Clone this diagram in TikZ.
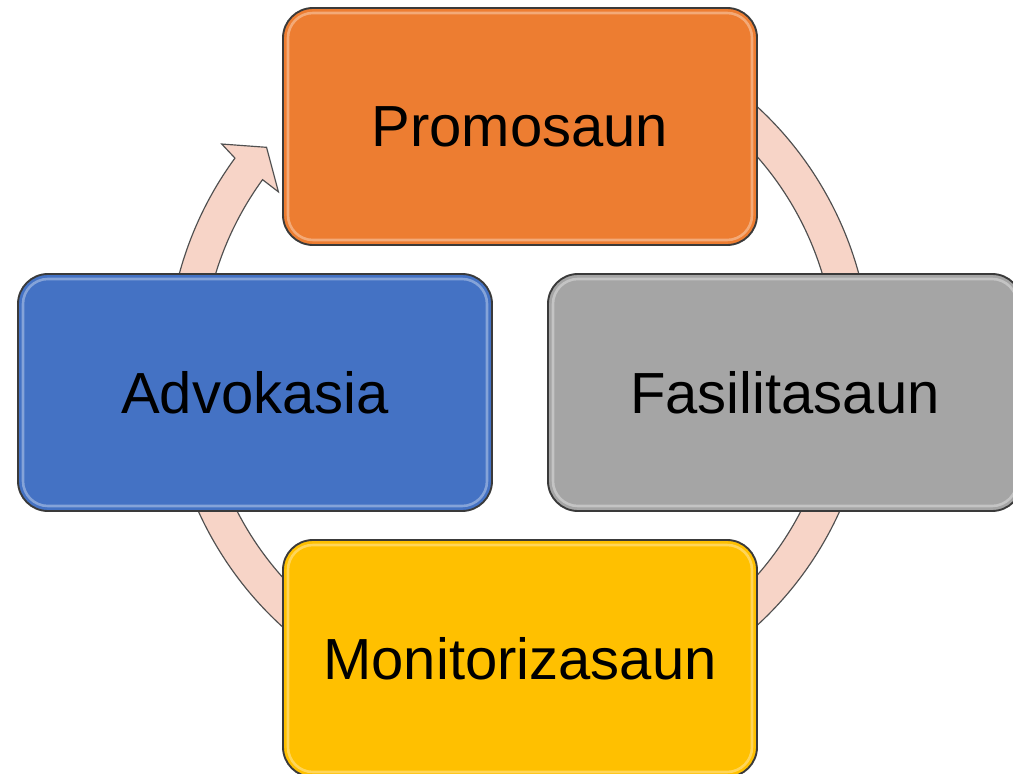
\documentclass[tikz,border=0pt]{standalone}
\usepackage{fontspec}
\setmainfont{Liberation Sans}
\definecolor{cOrange}{HTML}{ED7D31}
\definecolor{cGray}{HTML}{A5A5A5}
\definecolor{cBlue}{HTML}{4472C4}
\definecolor{cYellow}{HTML}{FFC000}
\definecolor{cRing}{HTML}{F7D4C7}
\definecolor{cRingLine}{HTML}{505050}
\definecolor{cEdge}{HTML}{3A3A3A}
\begin{document}
\begin{tikzpicture}[x=0.03cm,y=0.03cm,
  stagebox/.style={draw=cEdge, line width=1.6pt, rounded corners=0.9cm,
    minimum width=14.22cm, minimum height=7.11cm, inner sep=0pt, outer sep=0pt,
    font=\fontsize{49.5}{59}\selectfont, text=black},
  bevel/.style={draw=white, line width=2.2pt, opacity=0.35, rounded corners=0.75cm},
  ringshape/.style={fill=cRing, draw=cRingLine, line width=1pt, line join=miter}]
\useasboundingbox (0,0) rectangle (1013,773);
\clip (0,0) rectangle (1013,773);
\fill[white] (0,0) rectangle (1013,773);
\coordinate (C) at (519,407);
% ring with arrowhead
\path[ringshape]
  ([shift={(120:352)}]C) arc[start angle=120, end angle=-216.2, radius=352]
  -- ([shift={(-216.75:371)}]C)
  -- ([shift={(-220.9:334)}]C)
  -- ([shift={(-215.9:297)}]C)
  -- ([shift={(-216.0:317)}]C)
  arc[start angle=-216.0, end angle=120, radius=317] -- cycle;
% boxes
\node[stagebox, fill=cOrange] (promo) at (520,646.5) {Promosaun};
\node[stagebox, fill=cBlue] (advo) at (255,380.5) {Advokasia};
\node[stagebox, fill=cGray] (fasi) at (785,380.5) {Fasilitasaun};
\node[stagebox, fill=cYellow] (moni) at (520,114.5) {Monitorizasaun};
\foreach \b in {promo,advo,fasi,moni}{
  \draw[bevel] ([shift={(5,-5)}]\b.north west) rectangle ([shift={(-5,5)}]\b.south east);
}
\end{tikzpicture}
\end{document}
